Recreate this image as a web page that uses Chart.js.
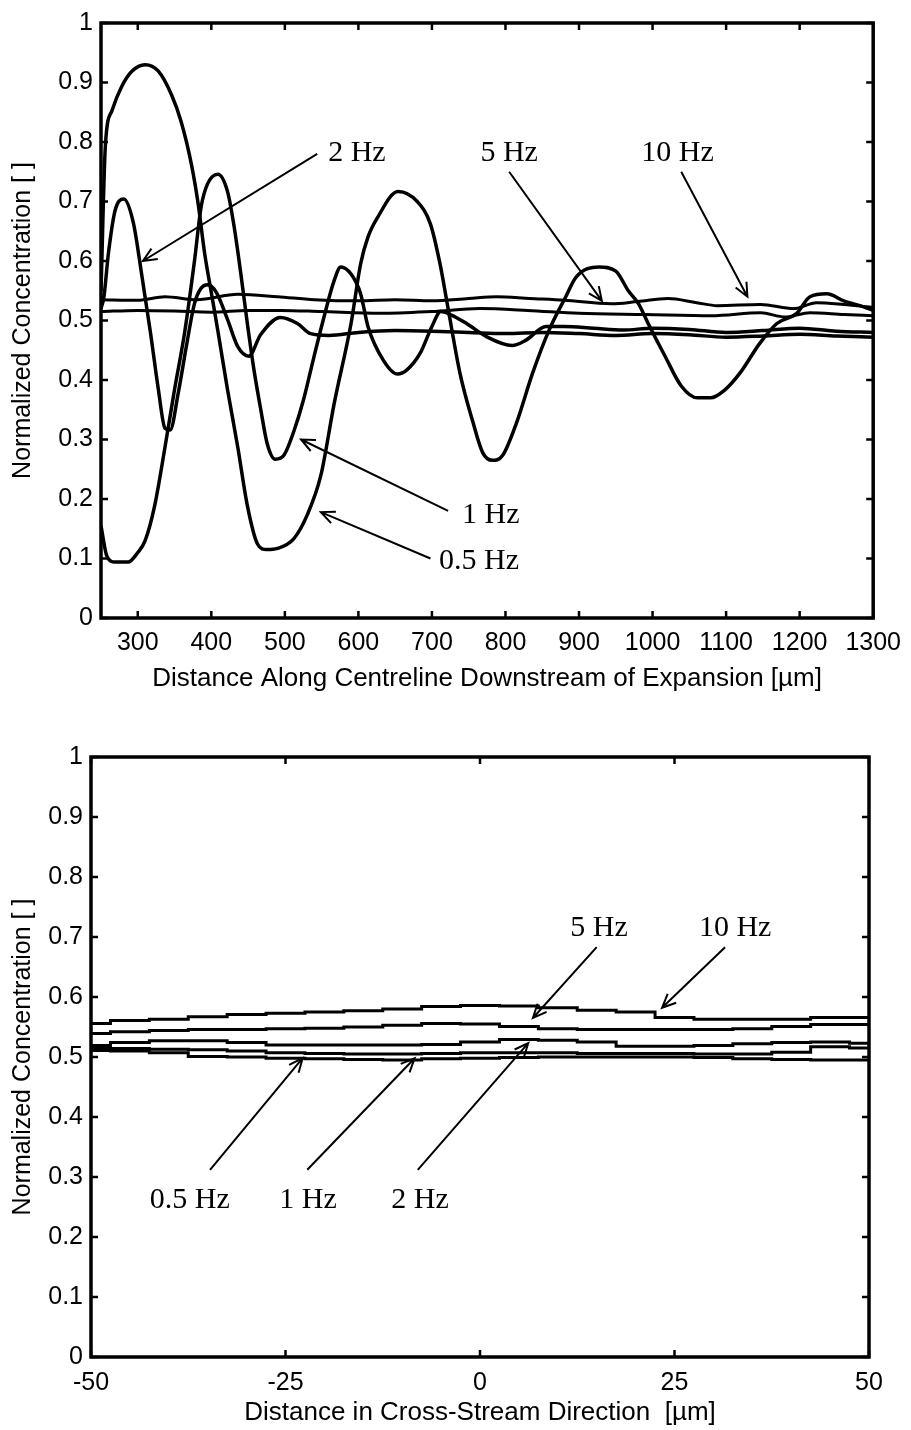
<!DOCTYPE html>
<html>
<head>
<meta charset="utf-8">
<script src="https://cdn.jsdelivr.net/npm/chart.js@4.4.1/dist/chart.umd.min.js"></script>
<style>
  html, body { margin: 0; padding: 0; background: #fff; }
  #wrap { position: relative; width: 911px; height: 1430px; }
  canvas { position: absolute; left: 0; }
</style>
</head>
<body>
<div id="wrap">
  <canvas id="alongChart" width="911" height="700" style="top:0px"></canvas>
  <canvas id="crossChart" width="911" height="730" style="top:700px"></canvas>
</div>
<script>
// ---- top chart: along the centreline ----
const alongTicks = [300, 400, 500, 600, 700, 800, 900, 1000, 1100, 1200, 1300];
const concTicks = [0, 0.1, 0.2, 0.3, 0.4, 0.5, 0.6, 0.7, 0.8, 0.9, 1];

const halfHzX = [250, 256, 265, 278, 292, 310, 328, 346, 359, 373, 382, 391, 400, 409, 422, 436, 449, 463, 475, 490, 512, 530, 549, 567, 590, 603, 613, 626, 654, 680, 698, 711, 722, 738, 756, 769, 782, 796, 815, 837, 859, 882, 896, 927, 950, 967, 981, 994, 1017, 1039, 1061, 1079, 1098, 1119, 1146, 1169, 1196, 1214, 1237, 1260, 1287, 1300];
const halfHzY = [0.55, 0.795, 0.853, 0.893, 0.919, 0.93, 0.919, 0.879, 0.834, 0.762, 0.697, 0.612, 0.547, 0.482, 0.384, 0.287, 0.189, 0.124, 0.115, 0.117, 0.133, 0.172, 0.24, 0.36, 0.495, 0.595, 0.64, 0.673, 0.717, 0.70, 0.662, 0.595, 0.52, 0.412, 0.328, 0.278, 0.265, 0.273, 0.328, 0.412, 0.483, 0.54, 0.573, 0.59, 0.583, 0.55, 0.528, 0.495, 0.44, 0.39, 0.37, 0.37, 0.383, 0.412, 0.462, 0.495, 0.512, 0.54, 0.545, 0.533, 0.523, 0.517];

const oneHzX = [250, 258, 269, 287, 300, 310, 323, 337, 350, 364, 377, 386, 395, 409, 422, 431, 440, 449, 458, 467, 476, 487, 499, 512, 525, 539, 552, 567, 576, 590, 603, 613, 634, 653, 666, 684, 700, 712, 725, 747, 774, 809, 828, 855, 880, 920, 960, 1000, 1050, 1100, 1150, 1200, 1250, 1300];
const oneHzY = [0.155, 0.104, 0.094, 0.094, 0.11, 0.13, 0.189, 0.287, 0.384, 0.482, 0.599, 0.69, 0.73, 0.746, 0.717, 0.658, 0.58, 0.495, 0.417, 0.352, 0.293, 0.267, 0.274, 0.313, 0.365, 0.436, 0.5, 0.567, 0.59, 0.578, 0.545, 0.49, 0.433, 0.41, 0.417, 0.445, 0.49, 0.515, 0.51, 0.495, 0.473, 0.458, 0.467, 0.49, 0.49, 0.487, 0.484, 0.487, 0.485, 0.48, 0.483, 0.487, 0.482, 0.48];

const twoHzX = [250, 254, 260, 269, 281, 294, 305, 317, 328, 337, 344, 355, 366, 377, 386, 395, 407, 422, 436, 451, 467, 494, 517, 535, 560, 600, 650, 700, 750, 800, 850, 900, 950, 1000, 1050, 1100, 1150, 1200, 1250, 1300];
const twoHzY = [0.52, 0.54, 0.612, 0.684, 0.704, 0.664, 0.58, 0.482, 0.384, 0.319, 0.316, 0.378, 0.456, 0.528, 0.554, 0.56, 0.547, 0.502, 0.456, 0.44, 0.476, 0.505, 0.495, 0.478, 0.475, 0.48, 0.483, 0.482, 0.48, 0.478, 0.48, 0.478, 0.475, 0.478, 0.476, 0.472, 0.474, 0.477, 0.474, 0.472];

const fiveHzX = [250, 300, 350, 400, 450, 495, 550, 630, 700, 765, 830, 900, 990, 1080, 1147, 1180, 1214, 1260, 1300];
const fiveHzY = [0.515, 0.517, 0.516, 0.514, 0.517, 0.517, 0.515, 0.512, 0.515, 0.52, 0.517, 0.512, 0.51, 0.508, 0.513, 0.506, 0.513, 0.51, 0.508];

const tenHzX = [250, 300, 337, 380, 436, 490, 540, 600, 650, 700, 750, 788, 833, 880, 944, 980, 1021, 1060, 1088, 1147, 1192, 1223, 1260, 1300];
const tenHzY = [0.535, 0.534, 0.54, 0.535, 0.544, 0.54, 0.535, 0.533, 0.535, 0.533, 0.537, 0.54, 0.537, 0.534, 0.528, 0.532, 0.537, 0.53, 0.525, 0.527, 0.52, 0.53, 0.527, 0.522];

// ---- bottom chart: cross-stream ----
const crossTicks = [-50, -25, 0, 25, 50];
const crossX = [-50, -45, -40, -35, -30, -25, -20, -15, -10, -5, 0, 5, 10, 15, 20, 25, 30, 35, 40, 45, 50];
const crossHalfHz = [0.511, 0.51, 0.507, 0.501, 0.5, 0.498, 0.497, 0.496, 0.495, 0.497, 0.498, 0.499, 0.5, 0.5, 0.5, 0.5, 0.499, 0.497, 0.496, 0.495, 0.495];
const crossOneHz = [0.514, 0.514, 0.513, 0.512, 0.51, 0.507, 0.506, 0.505, 0.505, 0.506, 0.507, 0.507, 0.507, 0.506, 0.506, 0.506, 0.505, 0.505, 0.508, 0.517, 0.515];
const crossTwoHz = [0.519, 0.524, 0.527, 0.527, 0.524, 0.52, 0.52, 0.52, 0.52, 0.521, 0.525, 0.529, 0.528, 0.525, 0.518, 0.518, 0.519, 0.522, 0.524, 0.525, 0.523];
const crossFiveHz = [0.539, 0.542, 0.544, 0.546, 0.546, 0.547, 0.548, 0.55, 0.553, 0.556, 0.555, 0.551, 0.547, 0.546, 0.546, 0.546, 0.546, 0.547, 0.551, 0.554, 0.554];
const crossTenHz = [0.556, 0.561, 0.563, 0.567, 0.571, 0.573, 0.575, 0.577, 0.58, 0.584, 0.586, 0.585, 0.582, 0.578, 0.575, 0.566, 0.563, 0.563, 0.563, 0.566, 0.566];

// labels with arrows, in data units
const alongNotes = [
  { text: '2 Hz',   at: [598, 0.782],  from: [544, 0.78],  to: [307, 0.60] },
  { text: '5 Hz',   at: [805, 0.782],  from: [805, 0.75],  to: [931, 0.533] },
  { text: '10 Hz',  at: [1034, 0.782], from: [1039, 0.75], to: [1129, 0.54] },
  { text: '1 Hz',   at: [780, 0.173],  from: [722, 0.18],  to: [522, 0.30] },
  { text: '0.5 Hz', at: [764, 0.095],  from: [698, 0.10],  to: [549, 0.178] }
];
const crossNotes = [
  { text: '5 Hz',   at: [15.3, 0.715],  from: [15.0, 0.683],  to: [6.8, 0.565] },
  { text: '10 Hz',  at: [32.8, 0.715],  from: [31.5, 0.683],  to: [23.4, 0.582] },
  { text: '0.5 Hz', at: [-37.3, 0.262], from: [-34.7, 0.312], to: [-22.8, 0.498] },
  { text: '1 Hz',   at: [-22.1, 0.262], from: [-22.2, 0.312], to: [-8.4, 0.498] },
  { text: '2 Hz',   at: [-7.7, 0.262],  from: [-8.0, 0.312],  to: [6.2, 0.523] }
];

const SANS = '"Liberation Sans", Arial, Helvetica, sans-serif';
const SERIF = '"Liberation Serif", "Times New Roman", serif';

function pts(xs, ys) {
  return xs.map((x, i) => ({ x: x, y: ys[i] }));
}

function series(label, xs, ys, width, stepped) {
  return {
    label: label,
    data: pts(xs, ys),
    borderColor: '#000',
    borderWidth: width,
    pointRadius: 0,
    fill: false,
    cubicInterpolationMode: stepped ? 'default' : 'monotone',
    stepped: stepped || false
  };
}

// box, inward ticks and the arrow labels
const framePlugin = {
  id: 'matlabFrame',
  afterDatasetsDraw(chart) {
    const ctx = chart.ctx;
    const a = chart.chartArea;
    const x = chart.scales.x, y = chart.scales.y;
    ctx.save();
    ctx.strokeStyle = '#000';
    ctx.lineWidth = 3.5;
    ctx.strokeRect(a.left, a.top, a.right - a.left, a.bottom - a.top);
    ctx.lineWidth = 2.5;
    ctx.beginPath();
    x.ticks.forEach(t => {
      const px = x.getPixelForValue(t.value);
      ctx.moveTo(px, a.bottom); ctx.lineTo(px, a.bottom - 7);
      ctx.moveTo(px, a.top); ctx.lineTo(px, a.top + 7);
    });
    y.ticks.forEach(t => {
      const py = y.getPixelForValue(t.value);
      ctx.moveTo(a.left, py); ctx.lineTo(a.left + 7, py);
      ctx.moveTo(a.right, py); ctx.lineTo(a.right - 7, py);
    });
    ctx.stroke();

    const notes = chart.options.plugins.matlabFrame.notes || [];
    ctx.fillStyle = '#000';
    ctx.font = '30px ' + SERIF;
    ctx.textAlign = 'center';
    ctx.textBaseline = 'middle';
    ctx.lineWidth = 2;
    notes.forEach(n => {
      ctx.fillText(n.text, x.getPixelForValue(n.at[0]), y.getPixelForValue(n.at[1]));
      const x0 = x.getPixelForValue(n.from[0]), y0 = y.getPixelForValue(n.from[1]);
      const x1 = x.getPixelForValue(n.to[0]), y1 = y.getPixelForValue(n.to[1]);
      const ang = Math.atan2(y1 - y0, x1 - x0);
      ctx.beginPath();
      ctx.moveTo(x0, y0); ctx.lineTo(x1, y1);
      ctx.moveTo(x1 - 15 * Math.cos(ang - 0.42), y1 - 15 * Math.sin(ang - 0.42));
      ctx.lineTo(x1, y1);
      ctx.lineTo(x1 - 15 * Math.cos(ang + 0.42), y1 - 15 * Math.sin(ang + 0.42));
      ctx.stroke();
    });
    ctx.restore();
  }
};

function makeChart(id, datasets, cfg) {
  return new Chart(document.getElementById(id), {
    type: 'line',
    data: { datasets: datasets },
    plugins: [framePlugin],
    options: {
      responsive: false,
      animation: false,
      layout: { padding: cfg.padding },
      plugins: {
        legend: { display: false },
        tooltip: { enabled: false },
        matlabFrame: { notes: cfg.notes }
      },
      scales: {
        x: {
          type: 'linear',
          min: cfg.xMin,
          max: cfg.xMax,
          afterBuildTicks: s => { s.ticks = cfg.xTicks.map(v => ({ value: v })); },
          afterFit: s => { s.height = cfg.xHeight; },
          grid: { display: false, drawTicks: false },
          border: { display: false },
          ticks: {
            color: '#000', padding: cfg.xTickPad, autoSkip: false, maxRotation: 0,
            font: { family: SANS, size: 25 },
            callback: v => String(v)
          },
          title: {
            display: true, text: cfg.xTitle, color: '#000',
            font: { family: SANS, size: 26 },
            padding: { top: 0, bottom: cfg.xTitlePad }
          }
        },
        y: {
          min: 0,
          max: 1,
          afterBuildTicks: s => { s.ticks = concTicks.map(v => ({ value: v })); },
          afterFit: s => { s.width = cfg.yWidth; },
          grid: { display: false, drawTicks: false },
          border: { display: false },
          ticks: {
            color: '#000', padding: 8,
            font: { family: SANS, size: 25 },
            callback: v => String(v)
          },
          title: {
            display: true, text: 'Normalized Concentration [ ]', color: '#000',
            font: { family: SANS, size: 25 },
            padding: { top: 8, bottom: 0 }
          }
        }
      }
    }
  });
}

makeChart('alongChart', [
  series('0.5 Hz', halfHzX, halfHzY, 3.5),
  series('1 Hz', oneHzX, oneHzY, 3.5),
  series('2 Hz', twoHzX, twoHzY, 3.5),
  series('5 Hz', fiveHzX, fiveHzY, 3),
  series('10 Hz', tenHzX, tenHzY, 3)
], {
  padding: { top: 17, right: 30, left: 0, bottom: 0 },
  xMin: 250, xMax: 1300, xTicks: alongTicks,
  xHeight: 82, yWidth: 101, xTickPad: 10, xTitlePad: 6,
  xTitle: 'Distance Along Centreline Downstream of Expansion [\u00b5m]',
  notes: alongNotes
});

makeChart('crossChart', [
  series('0.5 Hz', crossX, crossHalfHz, 3, 'middle'),
  series('1 Hz', crossX, crossOneHz, 3, 'middle'),
  series('2 Hz', crossX, crossTwoHz, 3, 'middle'),
  series('5 Hz', crossX, crossFiveHz, 3, 'middle'),
  series('10 Hz', crossX, crossTenHz, 3, 'middle')
], {
  padding: { top: 57, right: 42, left: 0, bottom: 0 },
  xMin: -50, xMax: 50, xTicks: crossTicks,
  xHeight: 73, yWidth: 91, xTickPad: 11, xTitlePad: 2,
  xTitle: 'Distance in Cross-Stream Direction  [\u00b5m]',
  notes: crossNotes
});
</script>
</body>
</html>
